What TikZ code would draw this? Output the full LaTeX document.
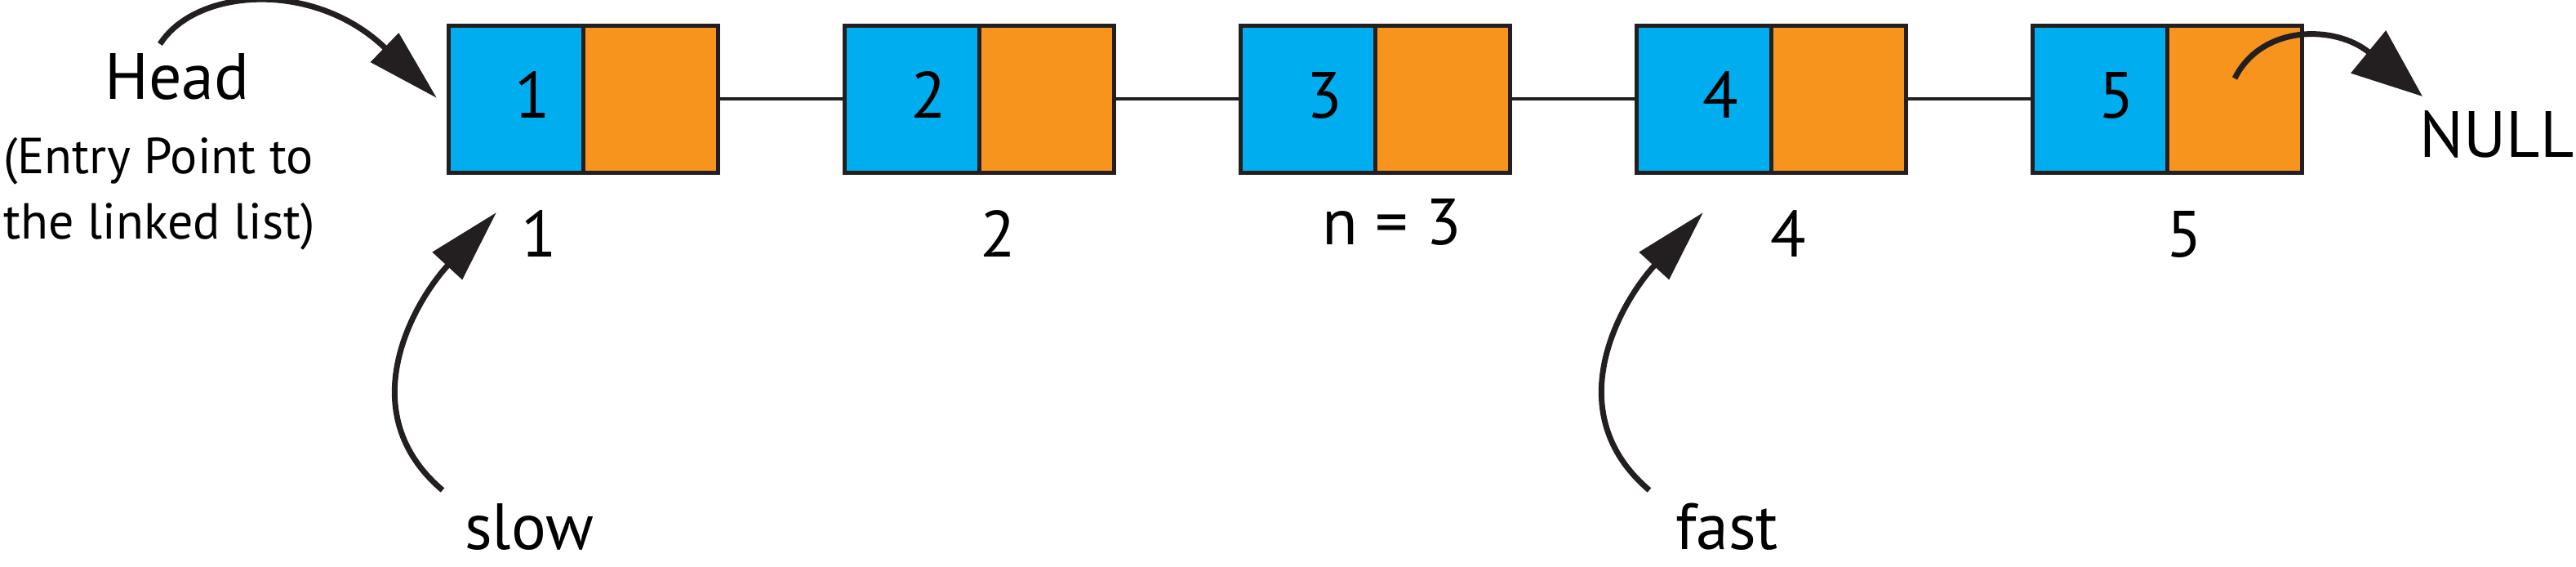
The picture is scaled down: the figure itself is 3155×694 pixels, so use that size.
\documentclass[tikz,border=0pt]{standalone}
\usepackage{fontspec}
\setmainfont{PT Sans}
\usetikzlibrary{arrows.meta}
\definecolor{llblue}{HTML}{00AEEF}
\definecolor{llorange}{HTML}{F7941E}
\definecolor{lldark}{HTML}{231F20}
\begin{document}
\begin{tikzpicture}[x=0.5pt,y=-0.5pt,
 cell/.style={draw=lldark, line width=2.5pt, minimum width=82.5pt, minimum height=90pt, inner sep=0pt, outer sep=0pt},
 bluecell/.style={cell, fill=llblue},
 orangecell/.style={cell, fill=llorange},
 big/.style={font=\fontsize{40}{48}\selectfont, inner sep=0pt, anchor=base},
 small/.style={font=\fontsize{31}{36}\selectfont, inner sep=0pt, anchor=base west},
 link/.style={draw=lldark, line width=2pt},
 pointer/.style={draw=lldark, line width=3.5pt, -{Triangle[length=44.5pt,width=24pt]}},
 nullptr/.style={draw=lldark, line width=3.5pt, -{Triangle[length=43pt,width=33pt]}}]
\useasboundingbox (0,0) rectangle (3155,694);
\foreach \i in {1,...,5} {
  \node[bluecell] (b\i) at ({631.5+485*(\i-1)},121.5) {};
  \node[orangecell] (o\i) at ({796.5+485*(\i-1)},121.5) {};
  \node[big] (v\i) at ({652+485*(\i-1)},145) {\i};
}
\foreach \i/\j in {1/2,2/3,3/4,4/5} \draw[link] (o\i.east) -- (b\j.west);
\node[big] (l1) at (660,315) {1};
\node[big] (l2) at (1222,315) {2};
\node[big] (l3) at (1705,300) {n = 3};
\node[big] (l4) at (2190,315) {4};
\node[big] (l5) at (2675,315) {5};
\node[big] (head) at (217,122) {Head};
\node[small] (entry1) at (4,213) {(Entry Point to};
\node[small] (entry2) at (4,293) {the linked list)};
\node[big, anchor=base east] (null) at (3153,193) {NULL};
\node[big] (slow) at (648,673) {slow};
\node[big] (fast) at (2115,673) {fast};
\coordinate (hs) at (196,54);
\coordinate (ht) at (535,120);
\draw[pointer] (hs) .. controls (240,-15) and (385,-25) .. (ht);
\coordinate (ss) at (542,600);
\coordinate (st) at (608,260);
\draw[pointer] (ss) .. controls (430,505) and (505,372) .. (st);
\coordinate (fs) at (2020,600);
\coordinate (ft) at (2086,260);
\draw[pointer] (fs) .. controls (1908,505) and (1983,372) .. (ft);
\coordinate (ns) at (2737,96);
\coordinate (nt) at (2967,118);
\draw[nullptr] (ns) .. controls (2770,30) and (2860,30) .. (nt);
\end{tikzpicture}
\end{document}
